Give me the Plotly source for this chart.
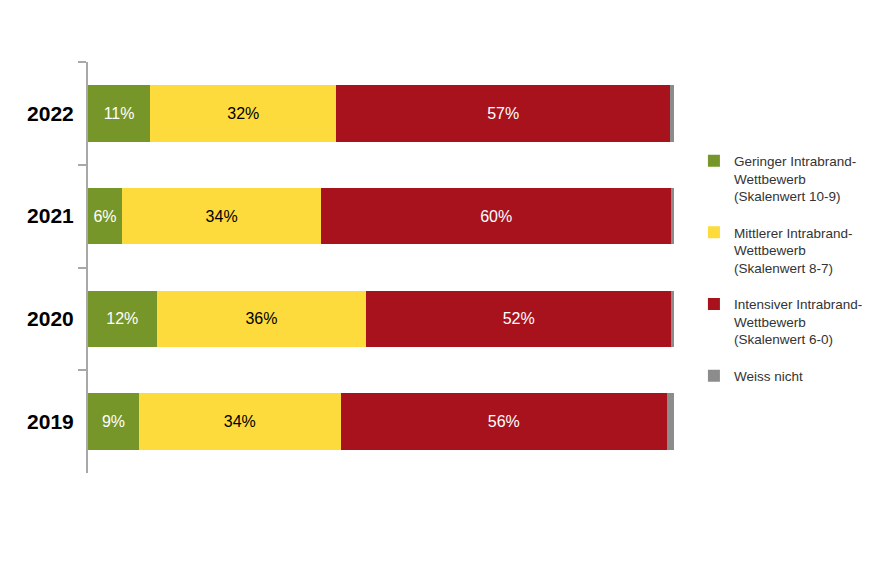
import plotly.graph_objects as go

years = ["2022", "2021", "2020", "2019"]
series_names = [
    "Geringer Intrabrand-<br>Wettbewerb<br>(Skalenwert 10-9)",
    "Mittlerer Intrabrand-<br>Wettbewerb<br>(Skalenwert 8-7)",
    "Intensiver Intrabrand-<br>Wettbewerb<br>(Skalenwert 6-0)",
    "Weiss nicht",
]
gering = [10.6, 5.8, 11.7, 8.7]
mittel = [31.8, 34.0, 35.8, 34.4]
intensiv = [56.9, 59.7, 52.0, 55.7]
weiss_nicht = [0.7, 0.5, 0.5, 1.2]

colors = ["#77962A", "#FDDB3C", "#A7121D", "#8C8C8C"]
text_colors = ["white", "black", "white", "white"]
show_text = [True, True, True, False]

fig = go.Figure()
for name, vals, col, tcol, st in zip(series_names, [gering, mittel, intensiv, weiss_nicht],
                                      colors, text_colors, show_text):
    fig.add_trace(go.Bar(
        y=years, x=vals, name=name, orientation="h",
        marker=dict(color=col, line=dict(width=0)),
        texttemplate="%{x:.0f}%" if st else None,
        textposition="inside" if st else "none",
        insidetextanchor="middle",
        textfont=dict(family="Liberation Sans, Arial, sans-serif", size=16, color=tcol),
        legendgroup=name,
        hoverinfo="skip",
    ))

fig.update_layout(
    width=872, height=580,
    barmode="stack",
    bargap=0.45,
    plot_bgcolor="white",
    paper_bgcolor="white",
    margin=dict(l=80, r=206, t=54, b=115),
    showlegend=True,
    legend=dict(
        x=1.034, y=0.797, xanchor="left", yanchor="top",
        traceorder="grouped",
        tracegroupgap=16,
        valign="top",
        font=dict(family="Liberation Sans, Arial, sans-serif", size=13.5, color="#333333"),
        bgcolor="rgba(0,0,0,0)",
    ),
    xaxis=dict(visible=False, range=[0, 100], fixedrange=True),
    yaxis=dict(
        type="category",
        autorange="reversed",
        showline=True, linecolor="#A8A8A8", linewidth=2,
        ticks="outside", tickson="boundaries", ticklen=8, tickwidth=2, tickcolor="#A8A8A8",
        showgrid=False, zeroline=False,
        tickfont=dict(family="Liberation Sans, Arial, sans-serif", size=21, color="black",
                      weight="bold"),
        ticklabelstandoff=8,
    ),
    font=dict(family="Liberation Sans, Arial, sans-serif"),
)

fig.write_html("out.html")
